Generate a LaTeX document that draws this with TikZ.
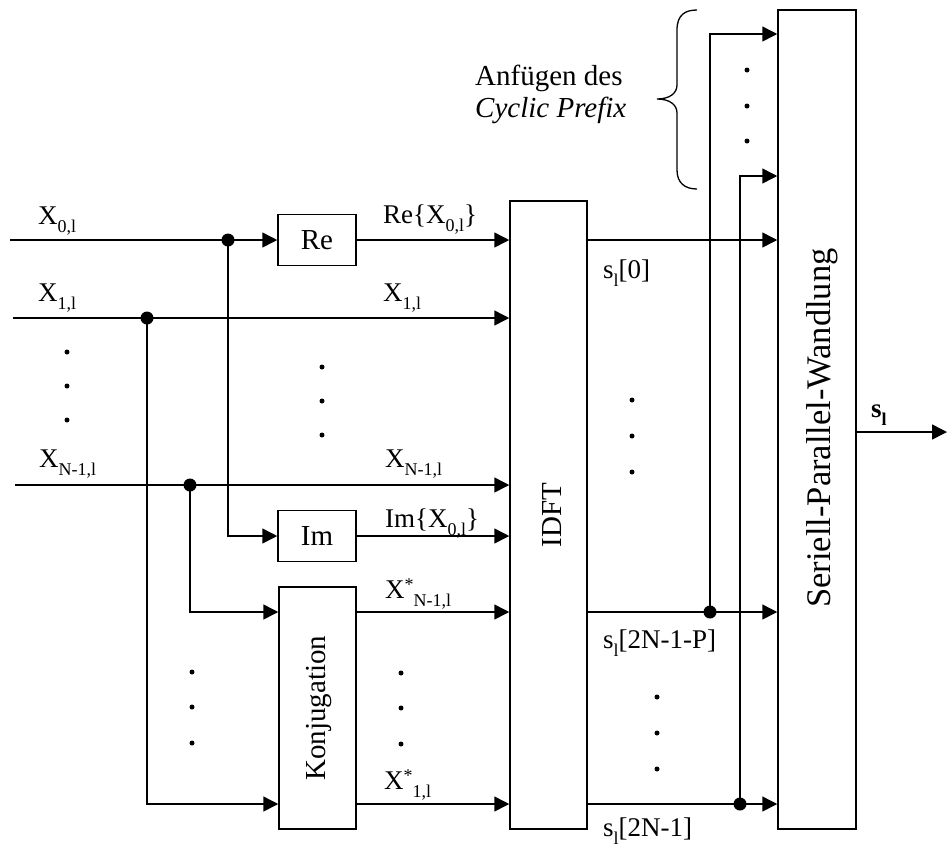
\documentclass[tikz,border=0pt]{standalone}
\usepackage{fontspec}
\setmainfont{Liberation Serif}
\usetikzlibrary{arrows.meta}
\newcommand{\lo}[1]{\raisebox{-0.32em}{\fontsize{18}{18}\selectfont #1}}
\newcommand{\hi}[1]{\raisebox{0.28em}{\fontsize{18}{18}\selectfont #1}}
\begin{document}
\begin{tikzpicture}[x=1pt,y=-1pt,
 blk/.style={draw, line width=1.5pt, inner sep=0pt},
 ln/.style={line width=1.5pt},
 arr/.style={ln, -{Triangle[length=15pt,width=15pt]}},
 lbl/.style={inner sep=0pt, anchor=base west, font=\fontsize{27}{29}\selectfont},
 big/.style={font=\fontsize{29}{32}\selectfont},
 jdot/.style={circle, fill, inner sep=0pt, minimum size=13pt}]
\useasboundingbox (0,0) rectangle (948,847);

% blocks
\node[blk, big, minimum width=78pt, minimum height=51pt] (re) at (317,240) {Re};
\node[blk, big, minimum width=78pt, minimum height=51pt] (im) at (317,536) {Im};
\node[blk, minimum width=77pt, minimum height=242pt] (konj) at (317.5,708) {};
\node[big, rotate=90] (konjt) at (319,708) {Konjugation};
\node[blk, minimum width=77pt, minimum height=628pt] (idft) at (548.5,515) {};
\node[big, rotate=90] (idftt) at (552,515) {IDFT};
\node[blk, minimum width=78pt, minimum height=819pt] (sp) at (817,419.5) {};
\node[font=\fontsize{34.5}{36}\selectfont, rotate=90] (spt) at (822,428) {Seriell-Parallel-Wandlung};

% helper coordinates
\coordinate (in0) at (10,240);
\coordinate (in1) at (13,318);
\coordinate (in2) at (15,485);
\coordinate (ky1) at (0,612);
\coordinate (ky2) at (0,804);
\coordinate (oy0) at (0,240);
\coordinate (ty0) at (0,34);
\coordinate (ty1) at (0,176);
\coordinate (out) at (947,432);

% junctions
\node[jdot] (j0) at (228,240) {};
\node[jdot] (j1) at (147,318) {};
\node[jdot] (j2) at (190,485) {};
\node[jdot] (j3) at (710,612) {};
\node[jdot] (j4) at (740,804) {};

% input side
\draw[ln] (in0) -- (j0.center);
\draw[arr] (j0.center) -- (re.west);
\draw[arr] (re.east) -- (re.east -| idft.west);
\draw[arr] (in1) -- (in1 -| idft.west);
\draw[arr] (in2) -- (in2 -| idft.west);
\draw[arr] (j0.center) |- (im.west);
\draw[arr] (im.east) -- (im.east -| idft.west);
\draw[arr] (j2.center) |- (konj.west |- ky1);
\draw[arr] (j1.center) |- (konj.west |- ky2);
\draw[arr] (konj.east |- ky1) -- (idft.west |- ky1);
\draw[arr] (konj.east |- ky2) -- (idft.west |- ky2);

% output side
\draw[arr] (idft.east |- oy0) -- (sp.west |- oy0);
\draw[ln] (idft.east |- ky1) -- (j3.center);
\draw[arr] (j3.center) -- (sp.west |- ky1);
\draw[ln] (idft.east |- ky2) -- (j4.center);
\draw[arr] (j4.center) -- (sp.west |- ky2);
\draw[arr] (j3.center) |- (sp.west |- ty0);
\draw[arr] (j4.center) |- (sp.west |- ty1);
\draw[arr] (sp.east |- out) -- (out);

% labels
\node[lbl] (lx0) at (38,224) {X\lo{0,l}};
\node[lbl] (lx1) at (38,301) {X\lo{1,l}};
\node[lbl] (lxn) at (39,467) {X\lo{N-1,l}};
\node[lbl] (lre) at (383,223) {Re\{X\lo{0,l}\}};
\node[lbl] (lx1r) at (383,301) {X\lo{1,l}};
\node[lbl] (lxnr) at (385,467) {X\lo{N-1,l}};
\node[lbl] (lim) at (385,527) {Im\{X\lo{0,l}\}};
\node[lbl] (lxs1) at (385,598) {X\hi{*}\lo{N-1,l}};
\node[lbl] (lxs2) at (384,789) {X\hi{*}\lo{1,l}};
\node[lbl] (ls0) at (603,278) {s\lo{l}[0]};
\node[lbl] (ls1) at (603,648) {s\lo{l}[2N-1-P]};
\node[lbl] (ls2) at (603,836) {s\lo{l}[2N-1]};
\node[lbl, font=\fontsize{27}{29}\selectfont\bfseries] (lsl) at (871,417) {s\lo{l}};
\node[lbl, font=\fontsize{29}{32}\selectfont] (la1) at (475,85) {Anfügen des};
\node[lbl, font=\fontsize{29}{32}\selectfont] (la2) at (475,117) {\textit{Cyclic Prefix}};

% brace
\draw[line width=1.3pt] (697,10) .. controls (685,10) and (677,15) .. (677,30)
  -- (677,85) .. controls (677,93) and (670,99) .. (657,99)
  .. controls (670,99) and (677,105) .. (677,113)
  -- (677,170) .. controls (677,183) and (685,189) .. (697,189);

% ellipsis dots
\foreach \x/\y in {67/352, 67/386, 67/420,
                   322/367, 322/401, 322/435,
                   192/672, 192/707, 192/743,
                   401/673, 401/708, 401/744,
                   632/400, 632/436, 632/472,
                   657/697, 657/733, 657/769,
                   747/70, 747/106, 747/141}
  \fill (\x,\y) circle (2.5pt);
\end{tikzpicture}
\end{document}
